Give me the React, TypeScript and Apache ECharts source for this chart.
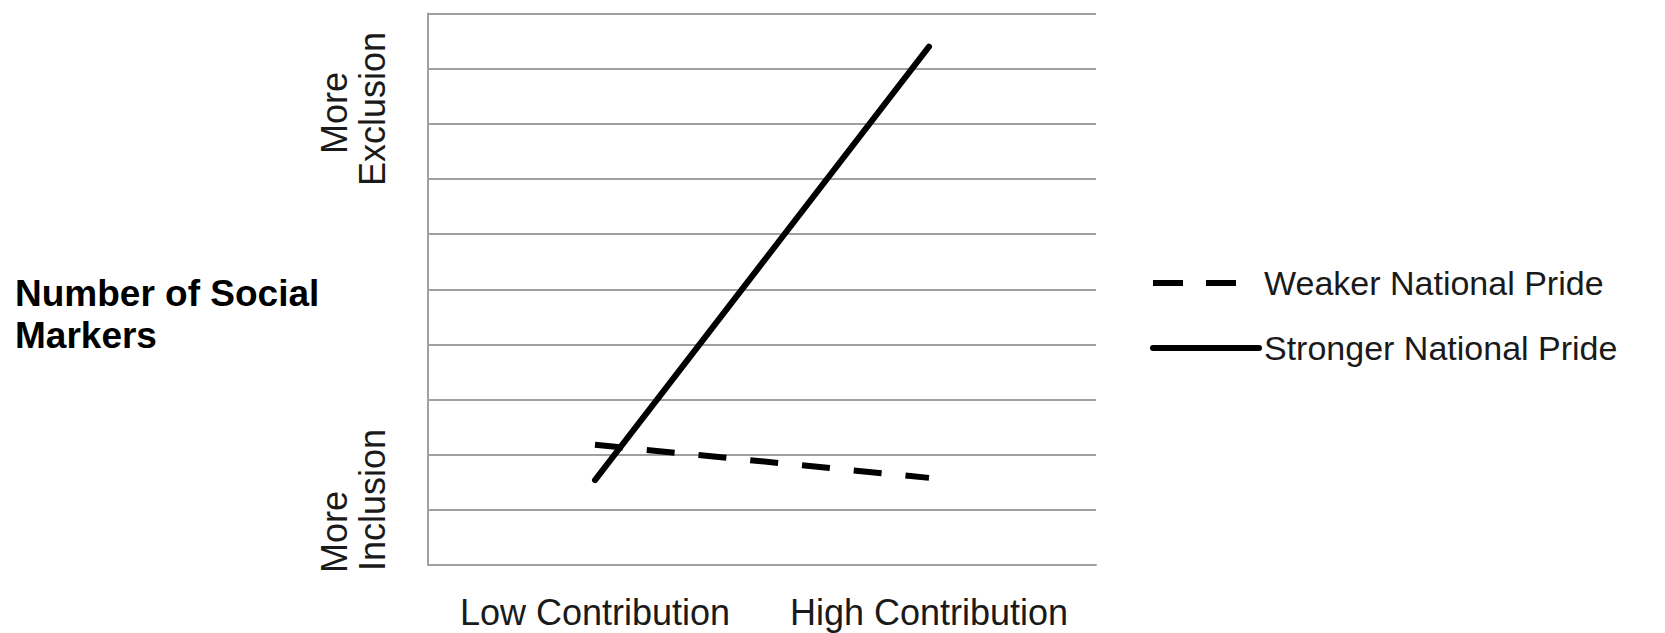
import { useEffect, useRef } from "react";
import * as echarts from "echarts";

const categories = ["Low Contribution", "High Contribution"];
const weakerPride = [2.18, 1.58];
const strongerPride = [1.54, 9.4];
const seriesNames = ["Weaker National Pride", "Stronger National Pride"];
const yTopLabel = ["More", "Exclusion"];
const yBottomLabel = ["More", "Inclusion"];
const yAxisTitle = "Number of Social\nMarkers";
const yMin = 0;
const yMax = 10;
const yStep = 1;

const FONT = "'Liberation Sans', Arial, sans-serif";

function rotatedText(text: string, x: number, y: number) {
  return {
    type: "text",
    x,
    y,
    rotation: Math.PI / 2,
    style: {
      text,
      fontFamily: FONT,
      fontSize: 36,
      fill: "#1a1a1a",
      align: "center",
      verticalAlign: "middle",
      textAlign: "center",
      textVerticalAlign: "middle",
    },
  };
}

export default function App() {
  const ref = useRef<HTMLDivElement>(null);
  useEffect(() => {
    const chart = echarts.init(ref.current!, null, { renderer: "svg" });
    const hiddenSymbol = { color: "rgba(0,0,0,0)", opacity: 0, borderWidth: 0 };
    chart.setOption({
      animation: false,
      backgroundColor: "#ffffff",
      textStyle: { fontFamily: FONT },
      title: {
        text: yAxisTitle,
        left: 15,
        top: 272,
        padding: 0,
        textStyle: {
          fontFamily: FONT,
          fontSize: 37,
          fontWeight: "bold",
          lineHeight: 42,
          color: "#000",
        },
      },
      grid: { left: 428, right: 569, top: 13.5, bottom: 68, containLabel: false },
      xAxis: {
        type: "category",
        data: categories,
        boundaryGap: true,
        axisLine: { show: true, lineStyle: { color: "#a0a0a0", width: 2 } },
        axisTick: { show: false },
        splitLine: { show: false },
        axisLabel: {
          margin: 29,
          fontFamily: FONT,
          fontSize: 36,
          color: "#1a1a1a",
          interval: 0,
        },
      },
      yAxis: {
        type: "value",
        min: yMin,
        max: yMax,
        interval: yStep,
        axisLine: { show: true, lineStyle: { color: "#a0a0a0", width: 2 } },
        axisTick: { show: false },
        axisLabel: { show: false },
        splitLine: { show: true, lineStyle: { color: "#a0a0a0", width: 2 } },
      },
      legend: {
        orient: "vertical",
        left: 1150,
        top: 266,
        itemWidth: 106,
        itemHeight: 14,
        itemGap: 31,
        selectedMode: false,
        padding: 0,
        textStyle: { fontFamily: FONT, fontSize: 34, color: "#1a1a1a" },
        data: [
          {
            name: seriesNames[0],
            itemStyle: hiddenSymbol,
            lineStyle: { type: [30, 23, 30, 40], width: 6, color: "#000" },
          },
          {
            name: seriesNames[1],
            itemStyle: hiddenSymbol,
            lineStyle: { width: 6, color: "#000" },
          },
        ],
      },
      series: [
        {
          type: "line",
          name: seriesNames[0],
          data: weakerPride,
          symbol: "none",
          z: 3,
          itemStyle: { color: "#000" },
          lineStyle: { color: "#000", width: 6, type: [28, 24], cap: "butt" },
        },
        {
          type: "line",
          name: seriesNames[1],
          data: strongerPride,
          symbol: "none",
          z: 4,
          itemStyle: { color: "#000" },
          lineStyle: { color: "#000", width: 6, type: "solid", cap: "round" },
        },
      ],
      graphic: [
        rotatedText(yTopLabel[0], 334, 113),
        rotatedText(yTopLabel[1], 372, 109),
        rotatedText(yBottomLabel[0], 334, 532),
        rotatedText(yBottomLabel[1], 372, 500),
      ],
    });
    return () => chart.dispose();
  }, []);
  return (
    <div
      ref={ref}
      style={{ position: "fixed", left: 0, top: 0, width: 1665, height: 633 }}
    />
  );
}
